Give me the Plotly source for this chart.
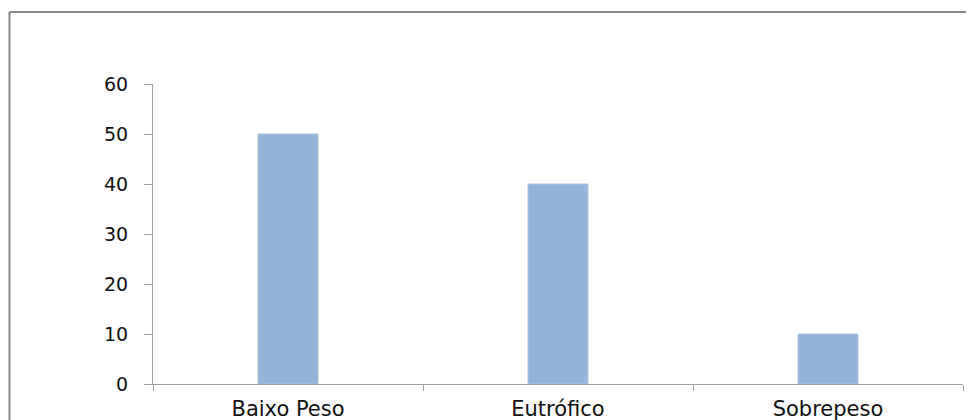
import plotly.graph_objects as go

categories = ["Baixo Peso", "Eutrófico", "Sobrepeso"]
values = [50, 40, 10]
y_ticks = [0, 10, 20, 30, 40, 50, 60]

# page has an 8px body margin; figure coordinates are page - 8
OFF = 8
W, H = 966, 412
L, R, T, B = 153 - OFF, 11, 84 - OFF, 36
pw = W - L - R
ph = H - T - B

def px_x(x):
    return (x - OFF - L) / pw

def px_y(y):
    return (H - B - (y - OFF)) / ph

fig = go.Figure(go.Bar(
    x=categories, y=values, width=0.222,
    marker=dict(color="#95B3D7", line=dict(color="#A9C1DE", width=1)),
    hoverinfo="skip",
))

fig.update_layout(
    width=W, height=H,
    margin=dict(l=L, r=R, t=T, b=B, pad=0, autoexpand=False),
    paper_bgcolor="white", plot_bgcolor="white",
    showlegend=False,
    font=dict(family="DejaVu Sans", size=19, color="#111111"),
    shapes=[
        dict(type="line", xref="paper", yref="paper",
             x0=px_x(9.5), x1=px_x(9.5), y0=px_y(440), y1=px_y(12),
             line=dict(color="#878787", width=2)),
        dict(type="line", xref="paper", yref="paper",
             x0=px_x(9.5), x1=px_x(990), y0=px_y(12), y1=px_y(12),
             line=dict(color="#878787", width=2)),
    ],
)

fig.update_xaxes(
    automargin=False,
    showgrid=False, showline=True, linecolor="#a0a0a0", linewidth=1,
    ticks="outside", tickson="boundaries", ticklen=6, tickcolor="#a0a0a0",
    tickfont=dict(size=21), ticklabelstandoff=6, zeroline=False,
)
fig.update_yaxes(
    automargin=False,
    range=[0, 60], tickvals=y_ticks, showgrid=False, showline=True,
    linecolor="#a0a0a0", linewidth=1, ticks="outside", ticklen=8,
    tickcolor="#a0a0a0", tickfont=dict(size=19), ticklabelstandoff=12,
    zeroline=False,
)

fig.write_html("out.html")
